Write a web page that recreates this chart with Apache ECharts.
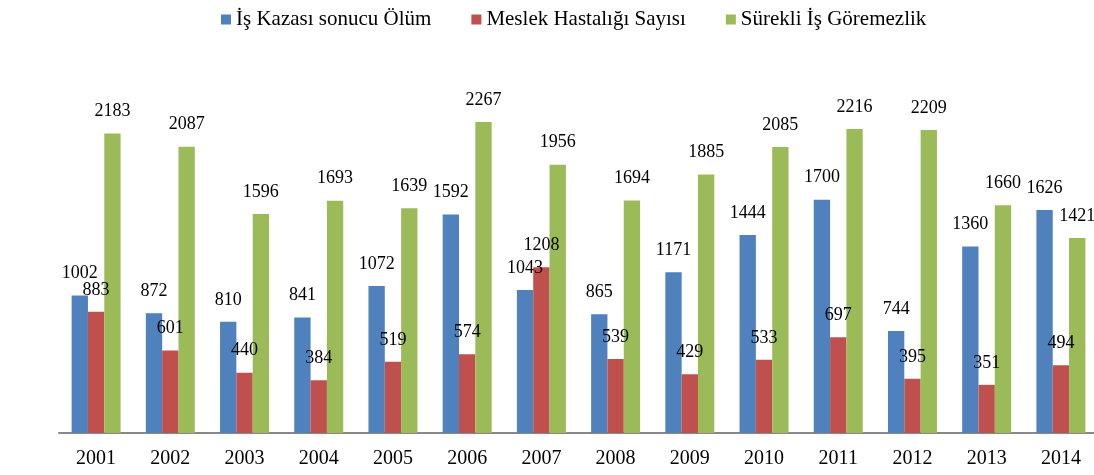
<!DOCTYPE html>
<html><head><meta charset="utf-8">
<script src="https://cdn.jsdelivr.net/npm/echarts@6/dist/echarts.min.js"></script>
<style>html,body{margin:0;padding:0;background:#fff}#c{width:1094px;height:475px}</style>
</head><body><div id="c"></div>
<script>
const categories = ['2001','2002','2003','2004','2005','2006','2007','2008','2009','2010','2011','2012','2013','2014'];
const seriesNames = ['İş Kazası sonucu Ölüm','Meslek Hastalığı Sayısı','Sürekli İş Göremezlik'];
const olum = [1002,872,810,841,1072,1592,1043,865,1171,1444,1700,744,1360,1626];
const meslek = [883,601,440,384,519,574,1208,539,429,533,697,395,351,494];
const surekli = [2183,2087,1596,1693,1639,2267,1956,1694,1885,2085,2216,2209,1660,1421];
const colors = ['#4F81BD','#C0504D','#9BBB59'];
const font = '"Liberation Serif","Times New Roman",serif';

const chart = echarts.init(document.getElementById('c'));
const mk = (name, data, color) => ({
  name, type:'bar', data, barGap:'0%', barCategoryGap:'34%',
  itemStyle:{color},
  label:{show:true, position:'top', distance:13, color:'#000', fontFamily:font, fontSize:18}
});
chart.setOption({
  animation:false,
  textStyle:{fontFamily:font},
  legend:{top:4, left:216, itemWidth:10, itemHeight:10, itemGap:40,
    icon:'rect', textStyle:{fontFamily:font, fontSize:21, color:'#000'}},
  grid:{left:59, top:90, width:1039, height:343, containLabel:false, outerBoundsMode:'none'},
  xAxis:{type:'category', data:categories,
    axisLine:{lineStyle:{color:'#888', width:2}}, axisTick:{show:false},
    axisLabel:{color:'#000', fontFamily:font, fontSize:20, margin:16}},
  yAxis:{type:'value', min:0, max:2500, show:false, splitLine:{show:false}},
  series:[mk(seriesNames[0], olum, colors[0]), mk(seriesNames[1], meslek, colors[1]), mk(seriesNames[2], surekli, colors[2])]
});
</script></body></html>
